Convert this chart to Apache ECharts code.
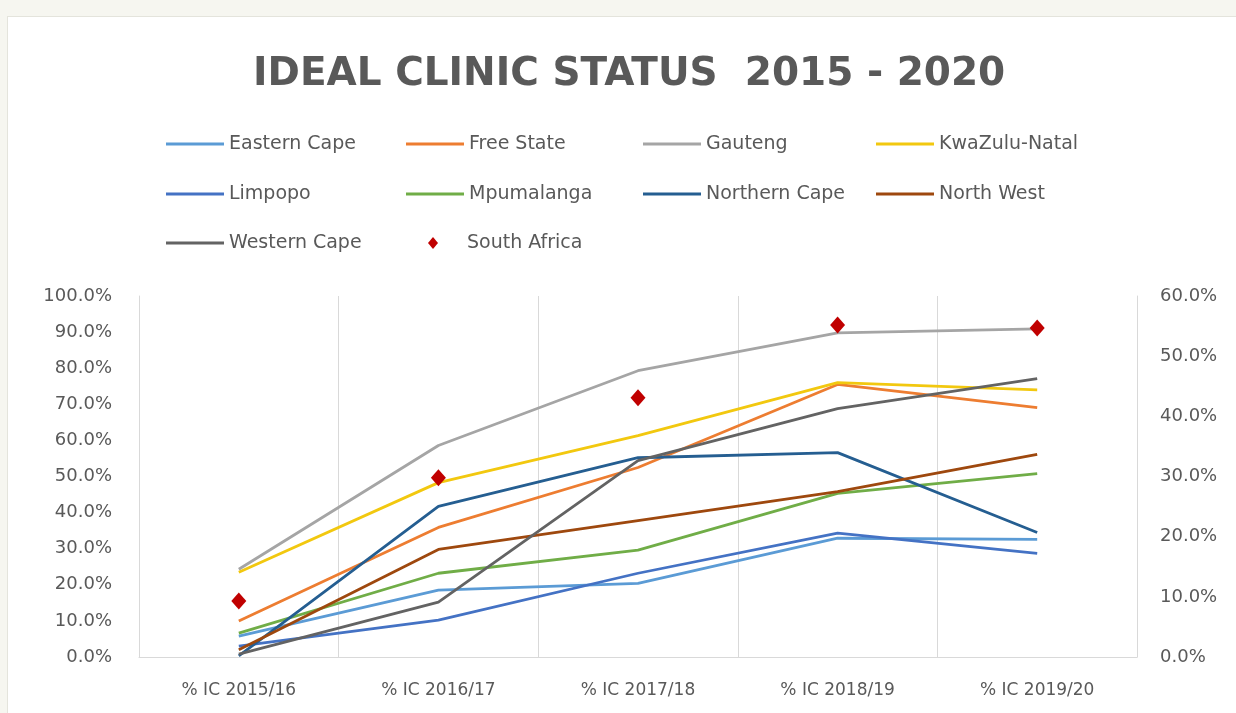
<!DOCTYPE html>
<html>
<head>
<meta charset="utf-8">
<title>Ideal Clinic Status 2015 - 2020</title>
<script src="https://cdn.jsdelivr.net/npm/echarts@6/dist/echarts.min.js"></script>
<style>
  html, body { margin: 0; padding: 0; width: 1236px; height: 713px; background: #F6F6F0; overflow: hidden; }
  #chart { position: absolute; left: 7px; top: 16px; width: 1229px; height: 697px; background: #FFFFFF;
           border-left: 1px solid #E4E4DC; border-top: 1px solid #E4E4DC; box-sizing: border-box; }
</style>
</head>
<body>
<div id="chart"></div>
<script>
// Financial years on the category axis
const categories = ['% IC 2015/16', '% IC 2016/17', '% IC 2017/18', '% IC 2018/19', '% IC 2019/20'];

// Share of clinics with ideal status per province (percent, left axis)
const easternCape  = [5.8, 18.5, 20.4, 32.9, 32.6];
const freeState    = [10.0, 35.9, 52.5, 75.5, 69.1];
const gauteng      = [24.3, 58.6, 79.3, 89.8, 90.9];
const kwaZuluNatal = [23.5, 48.3, 61.3, 76.0, 74.0];
const limpopo      = [3.0, 10.2, 23.2, 34.3, 28.7];
const mpumalanga   = [6.6, 23.2, 29.6, 45.3, 50.8];
const northernCape = [0.3, 41.7, 55.2, 56.6, 34.5];
const northWest    = [2.0, 29.8, 37.8, 45.8, 56.1];
const westernCape  = [0.8, 15.2, 54.4, 68.8, 77.1];

// National figure (percent, right axis)
const southAfrica  = [9.3, 29.8, 43.1, 55.2, 54.7];

// Axis ticks (percent)
const leftAxisTicks  = { min: 0, max: 100, step: 10 };
const rightAxisTicks = { min: 0, max: 60, step: 10 };

const provinces = [
  { name: 'Eastern Cape',  data: easternCape,  color: '#5B9BD5' },
  { name: 'Free State',    data: freeState,    color: '#ED7D31' },
  { name: 'Gauteng',       data: gauteng,      color: '#A5A5A5' },
  { name: 'KwaZulu-Natal', data: kwaZuluNatal, color: '#F2C80F' },
  { name: 'Limpopo',       data: limpopo,      color: '#4472C4' },
  { name: 'Mpumalanga',    data: mpumalanga,   color: '#70AD47' },
  { name: 'Northern Cape', data: northernCape, color: '#255E91' },
  { name: 'North West',    data: northWest,    color: '#9E480E' },
  { name: 'Western Cape',  data: westernCape,  color: '#636363' }
];
const nationalColor = '#C00000';

const textColor = '#595959';
const gridColor = '#D9D9D9';
const pct = v => v.toFixed(1) + '%';

// Legend laid out in a 4 x 3 grid, one legend block per entry
const legendCols = [158, 398, 635, 868];
const legendRows = [127, 177, 226];
const legendSlots = [
  ['Eastern Cape', 0, 0], ['Free State', 1, 0], ['Gauteng', 2, 0], ['KwaZulu-Natal', 3, 0],
  ['Limpopo', 0, 1], ['Mpumalanga', 1, 1], ['Northern Cape', 2, 1], ['North West', 3, 1],
  ['Western Cape', 0, 2]
];
const legendText = { color: textColor, fontFamily: 'DejaVu Sans', fontSize: 19, lineHeight: 22 };
const legends = legendSlots.map(([name, c, r]) => ({
  data: [{ name: name, icon: 'rect' }],
  left: legendCols[c],
  top: legendRows[r] - 11,
  padding: 0,
  itemWidth: 58,
  itemHeight: 3,
  selectedMode: false,
  textStyle: legendText
}));
// National marker entry: small diamond, text aligned with its column
legends.push({
  data: [{ name: 'South Africa', icon: 'diamond' }],
  left: legendCols[1] + 22,
  top: legendRows[2] - 11,
  padding: 0,
  itemWidth: 10,
  itemHeight: 12,
  selectedMode: false,
  textStyle: Object.assign({}, legendText, { padding: [0, 0, 0, 24] })
});

const series = provinces.map(p => ({
  name: p.name,
  type: 'line',
  data: p.data,
  yAxisIndex: 0,
  symbol: 'none',
  color: p.color,
  itemStyle: { color: p.color },
  lineStyle: { color: p.color, width: 2.8 },
  animation: false
}));
series.push({
  name: 'South Africa',
  type: 'scatter',
  data: southAfrica,
  yAxisIndex: 1,
  symbol: 'diamond',
  symbolSize: [15, 17],
  itemStyle: { color: nationalColor, opacity: 1 },
  z: 5,
  animation: false
});

const chart = echarts.init(document.getElementById('chart'), null, { renderer: 'canvas' });
chart.setOption({
  backgroundColor: '#FFFFFF',
  animation: false,
  title: {
    text: 'IDEAL CLINIC STATUS  2015 - 2020',
    left: 240,
    top: 33,
    textStyle: { color: textColor, fontFamily: 'DejaVu Sans', fontWeight: 'bold', fontSize: 39 }
  },
  legend: legends,
  grid: { left: 131, right: 99, top: 279, bottom: 56 },
  xAxis: {
    type: 'category',
    data: categories,
    boundaryGap: true,
    axisLine: { show: true, lineStyle: { color: gridColor, width: 1 } },
    axisTick: { show: false },
    splitLine: { show: true, lineStyle: { color: gridColor, width: 1 } },
    axisLabel: { color: textColor, fontFamily: 'DejaVu Sans', fontSize: 17, margin: 25 }
  },
  yAxis: [
    {
      type: 'value',
      position: 'left',
      min: leftAxisTicks.min, max: leftAxisTicks.max, interval: leftAxisTicks.step,
      axisLine: { show: true, lineStyle: { color: gridColor, width: 1 } },
      axisTick: { show: false },
      splitLine: { show: false },
      axisLabel: { color: textColor, fontFamily: 'DejaVu Sans', fontSize: 18, margin: 27, formatter: pct }
    },
    {
      type: 'value',
      position: 'right',
      min: rightAxisTicks.min, max: rightAxisTicks.max, interval: rightAxisTicks.step,
      axisLine: { show: true, lineStyle: { color: gridColor, width: 1 } },
      axisTick: { show: false },
      splitLine: { show: false },
      axisLabel: { color: textColor, fontFamily: 'DejaVu Sans', fontSize: 18, margin: 23, formatter: pct }
    }
  ],
  series: series
});
</script>
</body>
</html>
